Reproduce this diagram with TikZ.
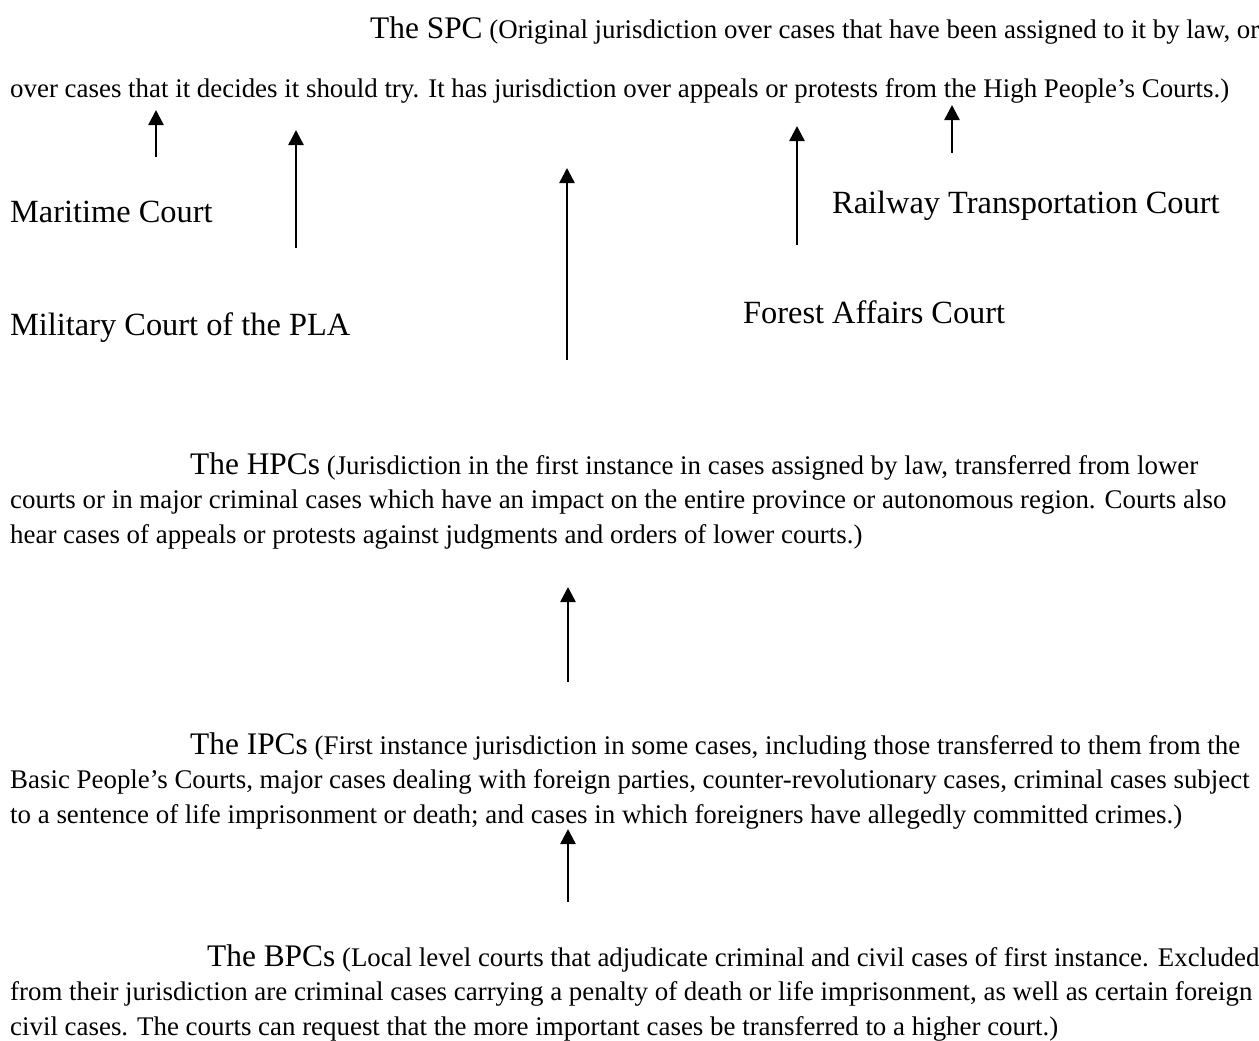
\documentclass[tikz,border=0pt]{standalone}
\usepackage{fontspec}
\setmainfont{Liberation Serif}
\usetikzlibrary{arrows.meta}
\tikzset{
    courtname/.style={anchor=base west, inner sep=0pt, font=\fontsize{32.5}{36}\selectfont},
    levelbox/.style={anchor=base west, inner sep=0pt, align=left, font=\fontsize{27}{34.5}\selectfont},
    uparrow/.style={-{Triangle[length=15bp, width=15bp]}, line width=2.5bp, draw=black}
}
\newcommand{\lvlname}[1]{{\fontsize{31.5}{34.5}\selectfont #1}}

\begin{document}
\begin{tikzpicture}[x=1bp, y=-1bp]
    \useasboundingbox (0,0) rectangle (1259,1041);
    \clip (0,0) rectangle (1259,1041);
    % the four levels (anchored on the baseline of their last line)
    \node[levelbox] (spc) at (10,97) {\hspace*{360bp}\lvlname{The SPC} (Original jurisdiction over cases that have been assigned to it by law, or\\[24bp]
        over cases that it decides it should try. It has jurisdiction over appeals or protests from the High People's Courts.)};
    \node[levelbox] (hpc) at (10,543) {\hspace*{180bp}\lvlname{The HPCs} (Jurisdiction in the first instance in cases assigned by law, transferred from lower\\
        courts or in major criminal cases which have an impact on the entire province or autonomous region. Courts also\\
        hear cases of appeals or protests against judgments and orders of lower courts.)};
    \node[levelbox] (ipc) at (10,823) {\hspace*{180bp}\lvlname{The IPCs} (First instance jurisdiction in some cases, including those transferred to them from the\\
        Basic People's Courts, major cases dealing with foreign parties, counter-revolutionary cases, criminal cases subject\\
        to a sentence of life imprisonment or death; and cases in which foreigners have allegedly committed crimes.)};
    \node[levelbox] (bpc) at (10,1035) {\hspace*{197bp}\lvlname{The BPCs} (Local level courts that adjudicate criminal and civil cases of first instance. Excluded\\
        from their jurisdiction are criminal cases carrying a penalty of death or life imprisonment, as well as certain foreign\\
        civil cases. The courts can request that the more important cases be transferred to a higher court.)};
    % special courts
    \node[courtname] (maritime) at (10,222) {Maritime Court};
    \node[courtname] (military) at (10,335) {Military Court of the PLA};
    \node[courtname] (railway) at (832,213) {Railway Transportation Court};
    \node[courtname] (forest) at (743,323) {Forest Affairs Court};
    % appeals go up
    \foreach \i/\x/\ya/\yb in {1/156/157/110, 2/296/248/130, 3/567/360/168, 4/797/245/126, 5/952/153/105, 6/568/682/587, 7/568/902/829} {
        \coordinate (tail\i) at (\x,\ya);
        \coordinate (tip\i) at (\x,\yb);
        \draw[uparrow] (tail\i) -- (tip\i);
    }
\end{tikzpicture}
\end{document}
